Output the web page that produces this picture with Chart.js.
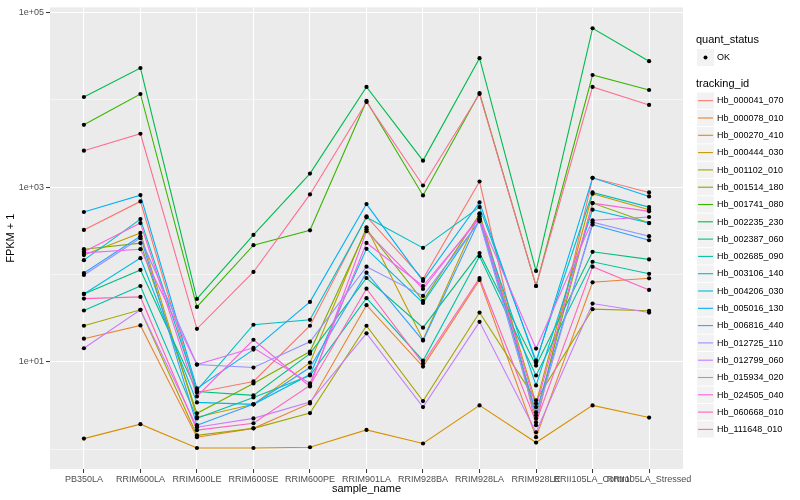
<!DOCTYPE html>
<html>
<head>
<meta charset="utf-8">
<script src="https://cdn.jsdelivr.net/npm/chart.js@4.4.0/dist/chart.umd.min.js"></script>
<style>
  html, body { margin: 0; padding: 0; background: #fff; }
  #wrap { width: 800px; height: 500px; position: relative; }
</style>
</head>
<body>
<div id="wrap"><canvas id="fpkmChart"></canvas></div>
<script>
'use strict';

// categories on the x axis
const sampleNames = ['PB350LA', 'RRIM600LA', 'RRIM600LE', 'RRIM600SE', 'RRIM600PE', 'RRIM901LA',
    'RRIM928BA', 'RRIM928LA', 'RRIM928LE', 'RRII105LA_Control', 'RRII105LA_Stressed'];

// FPKM + 1 (one array per tracking_id)
const hb_000041_070 = [324, 688, 4.46, 5.96, 25.9, 464, 88.8, 1163, 1.88, 1281, 871];
const hb_000078_010 = [18.4, 26.1, 1.37, 1.73, 3.34, 44.6, 8.83, 86.6, 1.37, 81.5, 90.5];
const hb_000270_410 = [1.32, 1.93, 1.03, 1.03, 1.05, 1.66, 1.16, 3.17, 1.19, 3.17, 2.30];
const hb_000444_030 = [167, 300, 2.32, 3.26, 9.80, 348, 17.9, 502, 3.34, 842, 553];
const hb_001102_010 = [25.9, 39.4, 1.44, 1.73, 2.59, 25.9, 3.55, 36.7, 3.62, 40.1, 38.4];
const hb_001514_180 = [195, 229, 2.57, 5.65, 13.1, 330, 49.9, 489, 2.44, 658, 389];
const hb_001741_080 = [5190, 11700, 42.6, 217, 321, 9740, 805, 12000, 73.9, 19300, 13000];
const hb_002235_230 = [10800, 23200, 52.6, 284, 1434, 14100, 2017, 30100, 110, 66200, 27800];
const hb_002387_060 = [59.9, 113, 4.58, 4.13, 12.4, 91.2, 24.6, 176, 9.06, 182, 149];
const hb_002685_090 = [38.7, 73.9, 2.25, 3.91, 6.97, 53.6, 10.3, 162, 6.97, 140, 102];
const hb_003106_140 = [146, 432, 4.70, 26.6, 30.3, 452, 202, 592, 10.3, 871, 592];
const hb_004206_030 = [59.9, 154, 3.43, 3.26, 7.16, 197, 47.3, 418, 5.36, 553, 389];
const hb_005016_130 = [520, 812, 4.96, 13.8, 48.6, 641, 84.3, 670, 9.80, 1281, 785];
const hb_006816_440 = [104, 275, 1.88, 3.26, 8.60, 105, 17.5, 429, 2.64, 373, 247];
const hb_012725_110 = [98.7, 261, 9.30, 8.60, 17.0, 123, 56.9, 407, 2.25, 397, 275];
const hb_012799_060 = [14.3, 39.4, 1.78, 2.25, 3.46, 21.2, 3.03, 28.7, 1.56, 46.5, 36.7];
const hb_015934_020 = [177, 195, 9.30, 14.5, 5.65, 230, 73.9, 440, 14.2, 418, 456];
const hb_024505_040 = [182, 389, 4.02, 17.9, 5.22, 313, 68.3, 464, 3.03, 658, 529];
const hb_060668_010 = [53.0, 55.4, 1.65, 1.98, 5.36, 68.9, 9.55, 91.2, 2.03, 123, 66.6];
const hb_111648_010 = [2623, 4098, 23.9, 107, 827, 9490, 1047, 11700, 73.9, 14100, 8770];

const trackingIds = ['Hb_000041_070', 'Hb_000078_010', 'Hb_000270_410', 'Hb_000444_030', 'Hb_001102_010',
    'Hb_001514_180', 'Hb_001741_080', 'Hb_002235_230', 'Hb_002387_060', 'Hb_002685_090',
    'Hb_003106_140', 'Hb_004206_030', 'Hb_005016_130', 'Hb_006816_440', 'Hb_012725_110',
    'Hb_012799_060', 'Hb_015934_020', 'Hb_024505_040', 'Hb_060668_010', 'Hb_111648_010'];
const seriesValues = [hb_000041_070, hb_000078_010, hb_000270_410, hb_000444_030, hb_001102_010,
    hb_001514_180, hb_001741_080, hb_002235_230, hb_002387_060, hb_002685_090,
    hb_003106_140, hb_004206_030, hb_005016_130, hb_006816_440, hb_012725_110,
    hb_012799_060, hb_015934_020, hb_024505_040, hb_060668_010, hb_111648_010];

// y ticks (major get a label, minor only a thin grid line)
const yTickValues = [1, 10, 100, 1000, 10000, 100000];
const yLabelValues = [10, 1000, 100000];

// ggplot2 default hue palette for 20 levels
const hueColors = ['#F8766D', '#EA8331', '#D89000', '#C09B00', '#A3A500', '#7CAE00', '#39B600', '#00BB4E',
    '#00BF7D', '#00C1A3', '#00BFC4', '#00BAE0', '#00B0F6', '#35A2FF', '#9590FF', '#C77CFF',
    '#E76BF3', '#FA62DB', '#FF62BC', '#FF6C91'];

const FONT = '"Liberation Sans", Arial, Helvetica, sans-serif';
const isMajor = v => yLabelValues.includes(v);

// grey panel behind everything
const panelBg = {
    id: 'panelBg',
    beforeDraw(chart) {
        const a = chart.chartArea;
        const ctx = chart.ctx;
        ctx.save();
        ctx.fillStyle = '#EBEBEB';
        ctx.fillRect(a.left, a.top, a.right - a.left, a.bottom - a.top);
        ctx.restore();
    }
};

// two legends, drawn like ggplot
const ggLegend = {
    id: 'ggLegend',
    afterDraw(chart) {
        const ctx = chart.ctx;
        const x0 = 697;
        ctx.save();
        ctx.textAlign = 'left';
        ctx.textBaseline = 'middle';
        ctx.fillStyle = '#000';
        ctx.font = '11px ' + FONT;
        ctx.fillText('quant_status', 696, 40);
        ctx.fillStyle = '#F2F2F2';
        ctx.fillRect(x0, 49, 17, 17);
        ctx.fillStyle = '#000';
        ctx.beginPath();
        ctx.arc(x0 + 8.5, 57.5, 2, 0, Math.PI * 2);
        ctx.fill();
        ctx.font = '9px ' + FONT;
        ctx.fillText('OK', 717, 57.5);

        ctx.font = '11px ' + FONT;
        ctx.fillText('tracking_id', 696, 84);
        ctx.font = '9px ' + FONT;
        trackingIds.forEach((id, i) => {
            const y = 92.5 + i * 17.3;
            ctx.fillStyle = '#F2F2F2';
            ctx.fillRect(x0, y, 17, 16.3);
            ctx.strokeStyle = hueColors[i];
            ctx.lineWidth = 1.1;
            ctx.beginPath();
            ctx.moveTo(x0 + 1, y + 8.2);
            ctx.lineTo(x0 + 16, y + 8.2);
            ctx.stroke();
            ctx.fillStyle = '#000';
            ctx.fillText(id, 717, y + 8.5);
        });
        ctx.restore();
    }
};

const lineSets = seriesValues.map((vals, i) => ({
    label: trackingIds[i],
    data: vals.map((v, j) => ({ x: j, y: v })),
    borderColor: hueColors[i],
    backgroundColor: hueColors[i],
    borderWidth: 1.1,
    pointRadius: 0,
    tension: 0,
    fill: false,
    order: seriesValues.length - i + 1
}));

const pointSet = {
    label: 'OK',
    data: seriesValues.flatMap(vals => vals.map((v, j) => ({ x: j, y: v }))),
    showLine: false,
    pointRadius: 2.1,
    pointBackgroundColor: '#000',
    pointBorderColor: '#000',
    pointBorderWidth: 0,
    order: 0
};

new Chart(document.getElementById('fpkmChart'), {
    type: 'line',
    data: { datasets: lineSets.concat([pointSet]) },
    plugins: [panelBg, ggLegend],
    options: {
        responsive: true,
        maintainAspectRatio: false,
        animation: false,
        layout: { padding: { left: 0, top: 5, right: 117, bottom: 0 } },
        plugins: { legend: { display: false }, tooltip: { enabled: false } },
        scales: {
            x: {
                type: 'linear',
                min: -0.6,
                max: 10.6,
                afterBuildTicks: s => { s.ticks = sampleNames.map((_, i) => ({ value: i })); },
                afterFit: s => { s.height = 31; },
                ticks: {
                    autoSkip: false, maxRotation: 0, minRotation: 0, padding: 1,
                    color: '#4D4D4D', font: { family: FONT, size: 9 },
                    callback: v => sampleNames[v]
                },
                grid: { color: '#FFFFFF', lineWidth: 1.07, tickLength: 4, tickColor: '#333333', tickWidth: 1 },
                border: { display: false },
                title: {
                    display: true, text: 'sample_name', color: '#000',
                    font: { family: FONT, size: 11 }, padding: { top: 0, bottom: 4 }
                }
            },
            y: {
                type: 'logarithmic',
                min: 0.592,
                max: 114800,
                afterBuildTicks: s => { s.ticks = yTickValues.map(v => ({ value: v })); },
                afterFit: s => { s.width = 50; },
                ticks: {
                    padding: 2, color: '#4D4D4D', font: { family: FONT, size: 9 },
                    callback: v => isMajor(v) ? '1e+' + String(Math.round(Math.log10(v))).padStart(2, '0') : ''
                },
                grid: {
                    color: '#FFFFFF',
                    lineWidth: c => isMajor(c.tick.value) ? 1.07 : 0.53,
                    tickLength: 4,
                    tickColor: c => isMajor(c.tick.value) ? '#333333' : 'rgba(0,0,0,0)',
                    tickWidth: 1
                },
                border: { display: false },
                title: {
                    display: true, text: 'FPKM + 1', color: '#000',
                    font: { family: FONT, size: 11 }, padding: { top: 4, bottom: 0 }
                }
            }
        }
    }
});
</script>
</body>
</html>
